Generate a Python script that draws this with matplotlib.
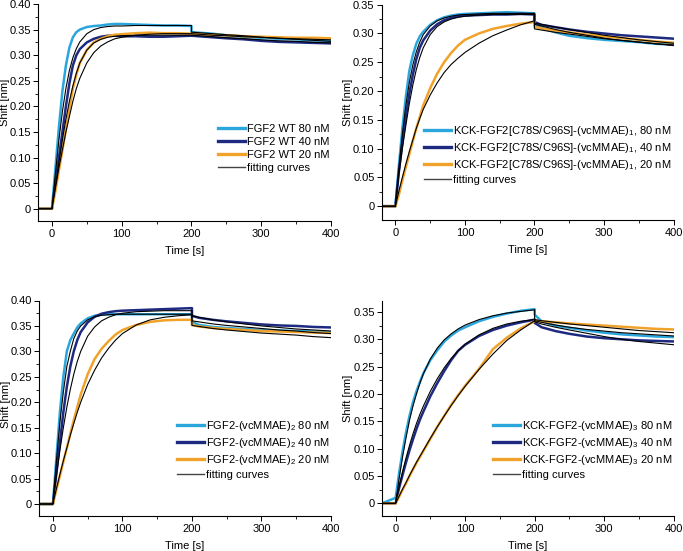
import matplotlib
matplotlib.use("Agg")
import matplotlib.pyplot as plt
from matplotlib.ticker import MultipleLocator, FuncFormatter
from matplotlib.lines import Line2D

plt.rcParams['font.family'] = ['Liberation Sans', 'DejaVu Sans']
plt.rcParams['mathtext.fontset'] = 'custom'
plt.rcParams['mathtext.rm'] = 'Liberation Sans'
plt.rcParams['mathtext.it'] = 'Liberation Sans'
plt.rcParams['font.size'] = 8

# shared time grid (s); 200 appears twice for the step at dissociation start
T = [-20, 0, 5, 10, 15, 20, 25, 30, 35, 40, 50, 60, 70, 80, 90, 100, 120, 140, 160, 180, 200,
     200, 210, 230, 250, 275, 300, 325, 350, 375, 400]

# Panel 1: FGF2 WT
p1_80 = [0, 0, 0.08, 0.16, 0.23, 0.28, 0.315, 0.335, 0.345, 0.350, 0.355, 0.357, 0.358, 0.360, 0.361, 0.361,
         0.360, 0.359, 0.358, 0.358, 0.357, 0.345, 0.344, 0.342, 0.339, 0.336, 0.334, 0.332, 0.331, 0.329, 0.328]
p1_40 = [0, 0, 0.05, 0.10, 0.15, 0.20, 0.245, 0.28, 0.30, 0.312, 0.325, 0.332, 0.336, 0.338, 0.338, 0.337,
         0.337, 0.336, 0.336, 0.337, 0.338, 0.338, 0.337, 0.335, 0.333, 0.331, 0.328, 0.326, 0.325, 0.324, 0.323]
p1_20 = [0, 0, 0.035, 0.075, 0.115, 0.155, 0.195, 0.235, 0.262, 0.285, 0.31, 0.325, 0.332, 0.337, 0.340, 0.341,
         0.343, 0.344, 0.343, 0.343, 0.342, 0.342, 0.341, 0.340, 0.339, 0.337, 0.336, 0.335, 0.334, 0.334, 0.333]
p1_f80 = [0, 0, 0.07, 0.135, 0.19, 0.235, 0.27, 0.295, 0.313, 0.326, 0.342, 0.350, 0.354, 0.356, 0.357, 0.357,
          0.358, 0.358, 0.358, 0.358, 0.358, 0.345, 0.344, 0.342, 0.340, 0.338, 0.335, 0.333, 0.331, 0.329, 0.327]
p1_f40 = [0, 0, 0.045, 0.09, 0.135, 0.175, 0.21, 0.24, 0.265, 0.285, 0.31, 0.324, 0.331, 0.335, 0.337, 0.338,
          0.339, 0.339, 0.339, 0.339, 0.339, 0.339, 0.338, 0.336, 0.334, 0.332, 0.330, 0.328, 0.327, 0.325, 0.324]
p1_f20 = [0, 0, 0.04, 0.08, 0.115, 0.15, 0.18, 0.21, 0.235, 0.255, 0.285, 0.305, 0.318, 0.326, 0.332, 0.335,
          0.339, 0.341, 0.342, 0.342, 0.342, 0.342, 0.341, 0.339, 0.338, 0.336, 0.335, 0.333, 0.332, 0.331, 0.330]

# Panel 2: KCK-FGF2[C78S/C96S]-(vcMMAE)1
p2_80 = [0, 0, 0.07, 0.135, 0.19, 0.235, 0.262, 0.282, 0.295, 0.303, 0.315, 0.323, 0.328, 0.331, 0.333, 0.334,
         0.335, 0.336, 0.337, 0.336, 0.335, 0.318, 0.31, 0.302, 0.296, 0.292, 0.289, 0.287, 0.285, 0.282, 0.281]
p2_40 = [0, 0, 0.06, 0.11, 0.155, 0.195, 0.228, 0.255, 0.275, 0.288, 0.305, 0.316, 0.323, 0.327, 0.33, 0.331,
         0.332, 0.333, 0.333, 0.334, 0.333, 0.32, 0.315, 0.311, 0.307, 0.303, 0.30, 0.297, 0.295, 0.293, 0.291]
p2_20 = [0, 0, 0.02, 0.045, 0.068, 0.09, 0.113, 0.135, 0.155, 0.175, 0.205, 0.23, 0.25, 0.266, 0.279, 0.289,
         0.30, 0.308, 0.313, 0.317, 0.32, 0.312, 0.309, 0.305, 0.302, 0.298, 0.295, 0.292, 0.289, 0.286, 0.284]
p2_f80 = [0, 0, 0.065, 0.125, 0.175, 0.215, 0.245, 0.268, 0.285, 0.298, 0.313, 0.322, 0.327, 0.330, 0.332, 0.333,
          0.334, 0.335, 0.335, 0.335, 0.335, 0.316, 0.313, 0.307, 0.302, 0.297, 0.292, 0.288, 0.285, 0.282, 0.279]
p2_f40 = [0, 0, 0.055, 0.10, 0.14, 0.178, 0.21, 0.237, 0.258, 0.275, 0.298, 0.312, 0.32, 0.325, 0.328, 0.33,
          0.332, 0.333, 0.333, 0.333, 0.333, 0.318, 0.316, 0.311, 0.307, 0.302, 0.297, 0.293, 0.289, 0.286, 0.283]
p2_f20 = [0, 0, 0.026, 0.05, 0.073, 0.095, 0.115, 0.135, 0.152, 0.168, 0.193, 0.214, 0.232, 0.246, 0.257, 0.267,
          0.283, 0.296, 0.306, 0.315, 0.322, 0.308, 0.306, 0.302, 0.299, 0.295, 0.291, 0.288, 0.285, 0.282, 0.280]

# Panel 3: FGF2-(vcMMAE)2
p3_80 = [0, 0, 0.09, 0.18, 0.25, 0.30, 0.322, 0.335, 0.347, 0.355, 0.365, 0.370, 0.372, 0.373, 0.373, 0.373,
         0.373, 0.373, 0.373, 0.373, 0.373, 0.358, 0.352, 0.348, 0.346, 0.344, 0.342, 0.341, 0.340, 0.339, 0.338]
p3_40 = [0, 0, 0.06, 0.12, 0.18, 0.23, 0.27, 0.30, 0.322, 0.338, 0.357, 0.368, 0.374, 0.377, 0.379, 0.380,
         0.381, 0.382, 0.383, 0.384, 0.385, 0.37, 0.366, 0.362, 0.359, 0.356, 0.353, 0.351, 0.350, 0.348, 0.347]
p3_20 = [0, 0, 0.028, 0.055, 0.083, 0.11, 0.138, 0.165, 0.19, 0.215, 0.255, 0.285, 0.305, 0.32, 0.333, 0.342,
         0.352, 0.358, 0.361, 0.362, 0.362, 0.352, 0.349, 0.346, 0.344, 0.342, 0.340, 0.339, 0.338, 0.337, 0.336]
p3_f80 = [0, 0, 0.085, 0.16, 0.22, 0.27, 0.30, 0.325, 0.34, 0.35, 0.362, 0.368, 0.371, 0.372, 0.373, 0.373,
          0.373, 0.373, 0.373, 0.373, 0.373, 0.360, 0.358, 0.354, 0.351, 0.348, 0.345, 0.342, 0.340, 0.337, 0.335]
p3_f40 = [0, 0, 0.055, 0.105, 0.15, 0.19, 0.225, 0.255, 0.28, 0.30, 0.33, 0.348, 0.36, 0.367, 0.372, 0.375,
          0.378, 0.379, 0.380, 0.380, 0.380, 0.370, 0.367, 0.362, 0.358, 0.354, 0.350, 0.347, 0.344, 0.342, 0.340]
p3_f20 = [0, 0, 0.03, 0.058, 0.085, 0.11, 0.135, 0.158, 0.18, 0.20, 0.235, 0.263, 0.287, 0.306, 0.322, 0.335,
          0.352, 0.362, 0.367, 0.370, 0.372, 0.351, 0.349, 0.345, 0.342, 0.339, 0.336, 0.334, 0.332, 0.329, 0.327]

# Panel 4: KCK-FGF2-(vcMMAE)3
p4_80 = [0, 0.01, 0.055, 0.095, 0.13, 0.16, 0.185, 0.205, 0.222, 0.238, 0.262, 0.28, 0.296, 0.307, 0.316, 0.322,
         0.333, 0.341, 0.347, 0.352, 0.355, 0.345, 0.333, 0.325, 0.321, 0.316, 0.312, 0.309, 0.307, 0.305, 0.304]
p4_40 = [0, 0, 0.028, 0.052, 0.075, 0.097, 0.117, 0.136, 0.153, 0.168, 0.196, 0.22, 0.242, 0.262, 0.279, 0.29,
         0.306, 0.317, 0.325, 0.331, 0.336, 0.33, 0.322, 0.315, 0.31, 0.305, 0.302, 0.30, 0.298, 0.297, 0.296]
p4_20 = [0, 0, 0.012, 0.025, 0.037, 0.05, 0.062, 0.074, 0.085, 0.096, 0.118, 0.14, 0.16, 0.18, 0.198, 0.215,
         0.246, 0.282, 0.303, 0.320, 0.333, 0.334, 0.333, 0.331, 0.329, 0.327, 0.325, 0.323, 0.321, 0.319, 0.318]
p4_f80 = [0, 0, 0.045, 0.085, 0.12, 0.152, 0.178, 0.2, 0.22, 0.237, 0.264, 0.284, 0.299, 0.31, 0.319, 0.326,
          0.336, 0.343, 0.348, 0.351, 0.354, 0.334, 0.331, 0.326, 0.322, 0.318, 0.315, 0.312, 0.310, 0.308, 0.306]
p4_f40 = [0, 0, 0.03, 0.058, 0.083, 0.106, 0.127, 0.146, 0.163, 0.178, 0.205, 0.228, 0.248, 0.265, 0.279, 0.291,
          0.308, 0.320, 0.328, 0.333, 0.336, 0.332, 0.328, 0.322, 0.317, 0.311, 0.305, 0.300, 0.296, 0.293, 0.290]
p4_f20 = [0, 0, 0.013, 0.026, 0.038, 0.051, 0.063, 0.075, 0.086, 0.097, 0.119, 0.14, 0.16, 0.179, 0.197, 0.214,
          0.245, 0.273, 0.298, 0.317, 0.334, 0.336, 0.334, 0.331, 0.328, 0.325, 0.322, 0.319, 0.316, 0.314, 0.312]

names = ["FGF2 WT", r"KCK-FGF2[C78S/C96S]-(vcMMAE)$_1$", r"FGF2-(vcMMAE)$_2$", r"KCK-FGF2-(vcMMAE)$_3$"]
concs = ["80 nM", "40 nM", "20 nM"]
sep = ["", ",", "", ""]
data = [(p1_80, p1_40, p1_20), (p2_80, p2_40, p2_20), (p3_80, p3_40, p3_20), (p4_80, p4_40, p4_20)]
fits = [(p1_f80, p1_f40, p1_f20), (p2_f80, p2_f40, p2_f20), (p3_f80, p3_f40, p3_f20), (p4_f80, p4_f40, p4_f20)]
ymax = [0.40, 0.35, 0.40, 0.37]
ymin = [-0.024, -0.024, -0.023, -0.0226]

colors = ["#2aa6dd", "#1d2a80", "#f0a22a"]

W, H = 683, 551
fig = plt.figure(figsize=(W / 100, H / 100), dpi=100)

# axes boxes in pixels: left, top, right, bottom
boxes = [(38, 4, 331, 221), (381.5, 4.7, 673.5, 220), (39, 300.5, 331, 515.7), (381.7, 301, 673.7, 515.7)]
legpos = [(218, 124), (424, 124), (177, 419), (493, 419)]
ylab_y = [102, 102, 404, 398]
ylab_x = [10, 353, 11, 353]

for i in range(4):
    l, t, r, b = boxes[i]
    ax = fig.add_axes([l / W, 1 - b / H, (r - l) / W, (b - t) / H])
    for k in range(3):
        ax.plot(T, data[i][k], color=colors[k], lw=1.8, solid_joinstyle='round')
    for k in range(3):
        ax.plot(T, fits[i][k], color='black', lw=0.8)
    ax.set_xlim(-20, 400)
    ax.set_ylim(ymin[i], ymax[i])
    ax.spines['top'].set_visible(False)
    ax.spines['right'].set_visible(False)
    ax.spines['left'].set_linewidth(0.8)
    ax.spines['bottom'].set_linewidth(0.8)
    ax.xaxis.set_major_locator(MultipleLocator(100))
    ax.xaxis.set_minor_locator(MultipleLocator(50))
    ax.yaxis.set_major_locator(MultipleLocator(0.05))
    ax.yaxis.set_minor_locator(MultipleLocator(0.025))
    ax.yaxis.set_major_formatter(FuncFormatter(lambda v, p: "0" if abs(v) < 1e-9 else f"{v:.2f}"))
    ax.tick_params(which='major', direction='out', length=3.5, width=0.7, pad=1.5, labelsize=8)
    ax.tick_params(axis='x', which='major', pad=2.5)
    ax.tick_params(which='minor', direction='out', length=2, width=0.6)
    ax.set_xlabel("Time [s]", fontsize=8, labelpad=5)
    ax.set_ylabel("Shift [nm]", fontsize=8)
    fx = ax.transAxes.inverted().transform(fig.transFigure.transform((ylab_x[i] / W, 1 - ylab_y[i] / H)))
    ax.yaxis.set_label_coords(fx[0], fx[1])

    handles = [Line2D([], [], color=colors[k], lw=2.4) for k in range(3)]
    handles.append(Line2D([], [], color='#444444', lw=1.0))
    labels = [f"{names[i]}{sep[i]} {c}" for c in concs] + ["fitting curves"]
    lx, ly = legpos[i]
    ax.legend(handles, labels, loc='upper left', bbox_to_anchor=(lx / W, 1 - ly / H),
              bbox_transform=fig.transFigure, frameon=False, fontsize=8, borderpad=0,
              borderaxespad=0, handlelength=2.4, handletextpad=0.2, labelspacing=0.28)

fig.savefig("out.png", dpi=100)
